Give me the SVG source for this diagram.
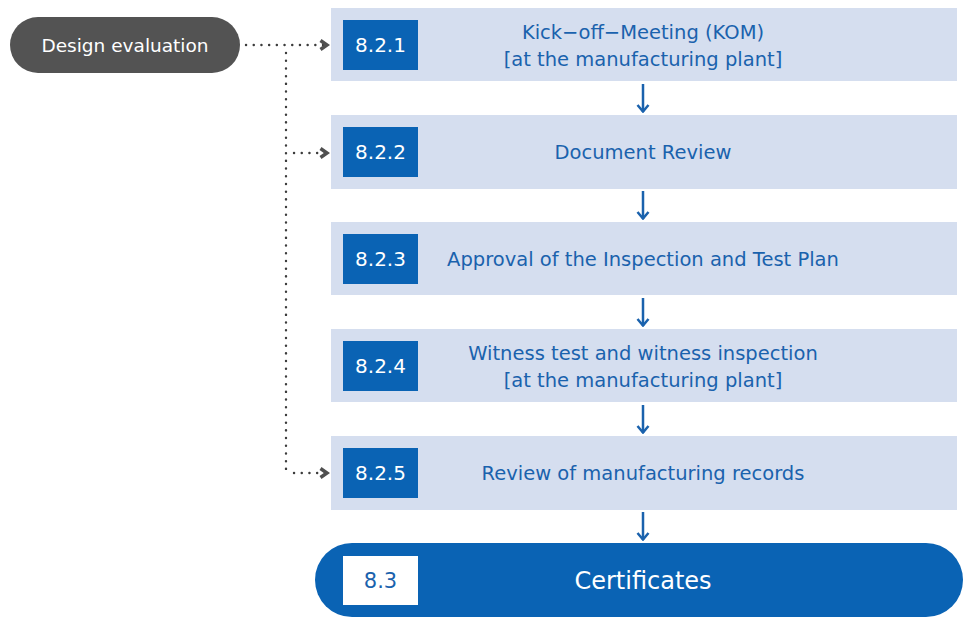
<svg xmlns="http://www.w3.org/2000/svg" width="965" height="619" viewBox="0 0 965 619">
<defs>
<style>
.step{fill:#d5deef}
.tag{fill:#0a63b4}
.tagt{fill:#ffffff;font-family:"DejaVu Sans",Verdana,sans-serif;font-size:20px;text-anchor:middle}
.lbl{fill:#1a62ad;font-family:"DejaVu Sans",Verdana,sans-serif;font-size:19.5px;text-anchor:middle}
.flow{stroke:#1a62ad;stroke-width:2.5;fill:none}
.dot{stroke:#3c3c3c;stroke-width:2.4;stroke-linecap:round;stroke-dasharray:0.1 7.6;fill:none}
</style>
<marker id="blueHead" viewBox="0 0 10 14" refX="9" refY="7" markerWidth="10" markerHeight="14" markerUnits="userSpaceOnUse" orient="auto">
<path d="M2 1.5 L8.5 7 L2 12.5" fill="none" stroke="#1a62ad" stroke-width="2.5"/>
</marker>
<marker id="chev" viewBox="0 0 11 13" refX="9.5" refY="6.5" markerWidth="11" markerHeight="13" markerUnits="userSpaceOnUse" orient="auto">
<path d="M2 2 L8.5 6.5 L2 11" fill="none" stroke="#505050" stroke-width="3.5"/>
</marker>
</defs>
<rect width="965" height="619" fill="#ffffff"/>

<g id="design-evaluation">
<rect x="10" y="17" width="230" height="56" rx="28" fill="#535353"/>
<text x="125" y="52" fill="#ffffff" font-family="'DejaVu Sans',Verdana,sans-serif" font-size="18.5" text-anchor="middle">Design evaluation</text>
</g>

<g id="step-821">
<rect class="step" x="331" y="8" width="626" height="73"/>
<rect class="tag" x="343" y="20" width="75" height="50"/>
<text class="tagt" x="380.5" y="52">8.2.1</text>
<text class="lbl" x="643" y="39">Kick−off−Meeting (KOM)</text>
<text class="lbl" x="643" y="66">[at the manufacturing plant]</text>
</g>

<g id="step-822">
<rect class="step" x="331" y="115" width="626" height="74"/>
<rect class="tag" x="343" y="127" width="75" height="50"/>
<text class="tagt" x="380.5" y="159">8.2.2</text>
<text class="lbl" x="643" y="159">Document Review</text>
</g>

<g id="step-823">
<rect class="step" x="331" y="222" width="626" height="73"/>
<rect class="tag" x="343" y="234" width="75" height="50"/>
<text class="tagt" x="380.5" y="266">8.2.3</text>
<text class="lbl" x="643" y="266">Approval of the Inspection and Test Plan</text>
</g>

<g id="step-824">
<rect class="step" x="331" y="329" width="626" height="73"/>
<rect class="tag" x="343" y="341" width="75" height="50"/>
<text class="tagt" x="380.5" y="373">8.2.4</text>
<text class="lbl" x="643" y="360">Witness test and witness inspection</text>
<text class="lbl" x="643" y="387">[at the manufacturing plant]</text>
</g>

<g id="step-825">
<rect class="step" x="331" y="436" width="626" height="74"/>
<rect class="tag" x="343" y="448" width="75" height="50"/>
<text class="tagt" x="380.5" y="480">8.2.5</text>
<text class="lbl" x="643" y="480">Review of manufacturing records</text>
</g>

<g id="certificates">
<rect x="315" y="543" width="648" height="74" rx="37" fill="#0a63b4"/>
<rect x="343" y="556" width="75" height="49" fill="#ffffff"/>
<text x="380.5" y="588" fill="#1a62ad" font-family="'DejaVu Sans',Verdana,sans-serif" font-size="21" text-anchor="middle">8.3</text>
<text x="643" y="589" fill="#ffffff" font-family="'DejaVu Sans',Verdana,sans-serif" font-size="24" text-anchor="middle">Certificates</text>
</g>

<g id="connectors">
<path class="flow" d="M643 84 V112" marker-end="url(#blueHead)"/>
<path class="flow" d="M643 191 V219" marker-end="url(#blueHead)"/>
<path class="flow" d="M643 298 V326" marker-end="url(#blueHead)"/>
<path class="flow" d="M643 405 V433" marker-end="url(#blueHead)"/>
<path class="flow" d="M643 512 V540" marker-end="url(#blueHead)"/>
<path class="dot" d="M246 45 H328" marker-end="url(#chev)"/>
<path class="dot" d="M286 53 V473"/>
<path class="dot" d="M294 153 H328" marker-end="url(#chev)"/>
<path class="dot" d="M294 473 H328" marker-end="url(#chev)"/>
</g>
</svg>
